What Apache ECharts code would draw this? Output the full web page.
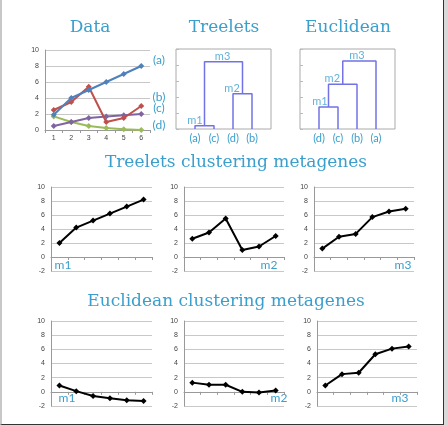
<!DOCTYPE html>
<html>
<head>
<meta charset="utf-8">
<script src="https://cdn.jsdelivr.net/npm/echarts@6/dist/echarts.min.js"></script>
<style>
  html, body { margin: 0; padding: 0; background: #d9d9d9; }
  #main { position: absolute; left: 0; top: 0; width: 441px; height: 424px; background: #fff;
          border-left: 2px solid #c8c8c8; border-right: 1px solid #333; border-bottom: 1px solid #333; }
</style>
</head>
<body>
<div id="main"></div>
<script>
// data panel
var dataX = ['1', '2', '3', '4', '5', '6'];
var seriesA = [1.9, 4, 5, 6, 7, 8];
var seriesB = [2.5, 3.5, 5.4, 1, 1.5, 3];
var seriesC = [0.5, 1, 1.5, 1.7, 1.85, 2];
var seriesD = [1.7, 1, 0.5, 0.25, 0.1, 0];
var dataNames = ['(a)', '(b)', '(c)', '(d)'];

// dendrograms: leaves left to right, merges = [left node, right node, height, name]
var treeLeaves = ['(a)', '(c)', '(d)', '(b)'];
var treeMerges = [[0, 1, 0.4, 'm1'], [2, 3, 4.4, 'm2'], [4, 5, 8.4, 'm3']];
var treeLabelX = [1.0, 2.95, 2.45];
var eucLeaves = ['(d)', '(c)', '(b)', '(a)'];
var eucMerges = [[0, 1, 2.75, 'm1'], [4, 2, 5.6, 'm2'], [5, 3, 8.5, 'm3']];
var eucLabelX = [1.05, 1.7, 3.0];

// metagenes
var treeM1 = [2, 4.2, 5.2, 6.2, 7.2, 8.2];
var treeM2 = [2.6, 3.5, 5.5, 1.0, 1.5, 3.0];
var treeM3 = [1.2, 2.9, 3.3, 5.7, 6.5, 6.9];
var eucM1 = [0.9, 0.1, -0.6, -0.9, -1.2, -1.3];
var eucM2 = [1.3, 1.0, 1.0, 0, -0.1, 0.2];
var eucM3 = [0.9, 2.5, 2.7, 5.3, 6.1, 6.4];
var metaNames = ['m1', 'm2', 'm3'];

var teal = '#3a9fcc';
var serif = '"DejaVu Serif", serif';
var tickFont = { fontSize: 7, color: '#444', fontFamily: 'Liberation Sans' };
var gridColor = '#c8c8c8';

var chart = echarts.init(document.getElementById('main'));

var grids = [
    { left: 43, top: 50, width: 105, height: 80 },              // 0 data
    { left: 174, top: 49, width: 95, height: 80, show: true, borderColor: '#aaa' }, // 1 treelets
    { left: 298, top: 49, width: 95, height: 80, show: true, borderColor: '#aaa' }, // 2 euclidean
    { left: 49, top: 187, width: 101, height: 84 },
    { left: 182, top: 187, width: 100, height: 84 },
    { left: 312, top: 187, width: 100, height: 84 },
    { left: 49, top: 321, width: 101, height: 85 },
    { left: 182, top: 321, width: 100, height: 85 },
    { left: 315, top: 321, width: 100, height: 85 }
];

function catAxis(gi, showLabel) {
    return {
        type: 'category', gridIndex: gi, data: dataX, boundaryGap: true,
        axisLine: { lineStyle: { color: '#999' } },
        axisTick: { show: true, length: 3, lineStyle: { color: '#999' } },
        axisLabel: Object.assign({ show: showLabel, margin: 5 }, tickFont)
    };
}
function valAxis(gi, min) {
    return {
        type: 'value', gridIndex: gi, min: min, max: 10, interval: 2,
        axisLine: { show: true, lineStyle: { color: '#999' } },
        axisTick: { show: false },
        splitLine: { lineStyle: { color: gridColor } },
        axisLabel: Object.assign({ margin: 6 }, tickFont)
    };
}
function treeXAxis(gi, leaves) {
    return {
        type: 'value', gridIndex: gi, min: 0, max: 5, interval: 1,
        axisLine: { show: false }, axisTick: { show: false }, splitLine: { show: false },
        axisLabel: { margin: 4, fontSize: 11, color: teal, fontFamily: 'Lato',
            formatter: function (v) { return leaves[v - 1] || ''; } }
    };
}
function treeYAxis(gi) {
    return {
        type: 'value', gridIndex: gi, min: 0, max: 10, interval: 2,
        axisLine: { show: false }, splitLine: { show: false }, axisLabel: { show: false },
        axisTick: { show: true, inside: true, length: 3, lineStyle: { color: '#bbb' } }
    };
}

var xAxes = [catAxis(0, true), treeXAxis(1, treeLeaves), treeXAxis(2, eucLeaves)];
var yAxes = [valAxis(0, 0), treeYAxis(1), treeYAxis(2)];
for (var g = 3; g < 9; g++) {
    xAxes.push(catAxis(g, false));
    yAxes.push(valAxis(g, -2));
}

var series = [];
var dataSets = [seriesA, seriesB, seriesC, seriesD];
var dataColors = ['#4f81bd', '#c0504d', '#8064a2', '#9bbb59'];
dataSets.forEach(function (d, i) {
    series.push({
        type: 'line', xAxisIndex: 0, yAxisIndex: 0, data: d, name: dataNames[i],
        symbol: 'diamond', symbolSize: 6, color: dataColors[i],
        lineStyle: { width: 2 }, z: 4 - i
    });
});

function dendro(gi, leaves, merges, labelX) {
    var xs = leaves.map(function (_, i) { return i + 1; });
    var hs = leaves.map(function () { return 0; });
    merges.forEach(function (m, k) {
        var l = m[0], r = m[1], h = m[2];
        series.push({
            type: 'line', xAxisIndex: gi, yAxisIndex: gi, symbol: 'none', silent: true,
            lineStyle: { color: '#7272e6', width: 1.5 },
            data: [[xs[l], hs[l]], [xs[l], h], [xs[r], h], [xs[r], hs[r]]]
        });
        series.push({
            type: 'scatter', xAxisIndex: gi, yAxisIndex: gi, symbolSize: 0, silent: true,
            data: [[labelX[k], h]],
            label: { show: true, position: 'top', distance: 0, formatter: m[3],
                fontSize: 11, color: teal, fontFamily: 'Lato' }
        });
        xs.push((xs[l] + xs[r]) / 2);
        hs.push(h);
    });
}
dendro(1, treeLeaves, treeMerges, treeLabelX);
dendro(2, eucLeaves, eucMerges, eucLabelX);

[treeM1, treeM2, treeM3, eucM1, eucM2, eucM3].forEach(function (d, i) {
    series.push({
        type: 'line', xAxisIndex: i + 3, yAxisIndex: i + 3, data: d,
        symbol: 'diamond', symbolSize: 6, color: '#000', lineStyle: { width: 2 }
    });
});

function txt(x, y, s, size, font) {
    return { type: 'text', x: x, y: y, style: { text: s, fontSize: size, fontFamily: font,
        fill: teal, textAlign: 'center', textVerticalAlign: 'middle' } };
}
var graphics = [
    txt(88, 28, 'Data', 17, serif),
    txt(222, 28, 'Treelets', 17, serif),
    txt(346, 28, 'Euclidean', 17, serif),
    txt(234, 163, 'Treelets clustering metagenes', 17, serif),
    txt(224, 302, 'Euclidean clustering metagenes', 17, serif)
];
var dataLabelY = [60, 97, 108, 125];
dataNames.forEach(function (n, i) { graphics.push(txt(157, dataLabelY[i], n, 12, 'Lato')); });
var metaPos = [[61, 265], [267, 265], [401, 265], [65, 398], [277, 398], [398, 398]];
metaPos.forEach(function (p, i) { graphics.push(txt(p[0], p[1], metaNames[i % 3], 12, 'Lato')); });

chart.setOption({
    animation: false,
    backgroundColor: '#fff',
    grid: grids,
    xAxis: xAxes,
    yAxis: yAxes,
    series: series,
    graphic: graphics
});
</script>
</body>
</html>
